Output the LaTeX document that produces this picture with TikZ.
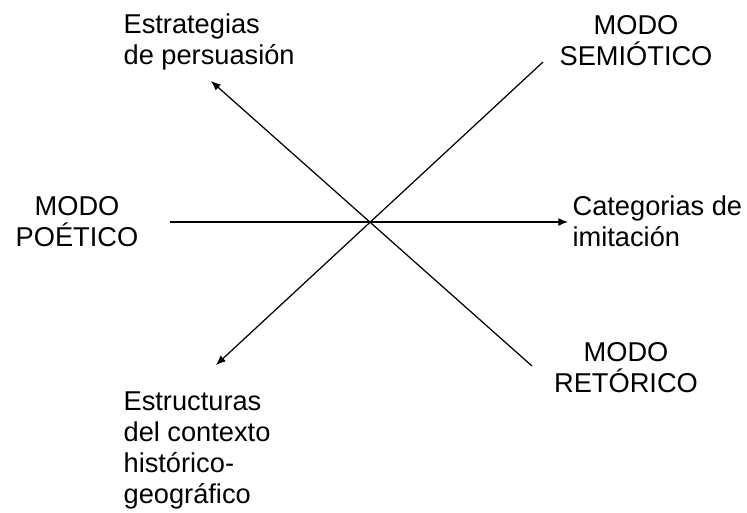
\documentclass[tikz,border=0pt]{standalone}
\usepackage{fontspec}
\setmainfont{Liberation Sans}
\usetikzlibrary{arrows.meta,positioning}

\begin{document}
\begin{tikzpicture}[
x=0.02cm, y=-0.02cm,
lbl/.style={
  inner sep=0pt,
  font=\fontsize{15.5pt}{17.6pt}\selectfont
  },
leftlbl/.style={
  lbl,
  align=left,
  anchor=base west
  },
midlbl/.style={
  lbl,
  align=center,
  anchor=base
  },
>={Latex[length=5.5pt,width=4.5pt]},
line width=0.7pt
]
\useasboundingbox (0,0) rectangle (747,512);
% labels (base = last line)
\node[leftlbl] (strat) at (123,64) {Estrategias\\de persuasión};
\node[midlbl] (semio) at (636,65) {MODO\\SEMIÓTICO};
\node[midlbl] (poet) at (77,246) {MODO\\POÉTICO};
\node[leftlbl] (categ) at (572,246) {Categorias de\\imitación};
\node[midlbl] (retor) at (626,392) {MODO\\RETÓRICO};
\node[leftlbl] (estruc) at (123,503) {Estructuras\\del contexto\\histórico-\\geográfico};
% ends of the lines
\coordinate (stratend) at (211,81);
\coordinate (semioend) at (543,62);
\coordinate (poetend) at (170,222);
\coordinate (categend) at (568,222);
\coordinate (retorend) at (532,366);
\coordinate (estrucend) at (216,365);
\draw[->] (poetend) -- (categend);
\draw[->] (retorend) -- (stratend);
\draw[->] (semioend) -- (estrucend);
\end{tikzpicture}
\end{document}
